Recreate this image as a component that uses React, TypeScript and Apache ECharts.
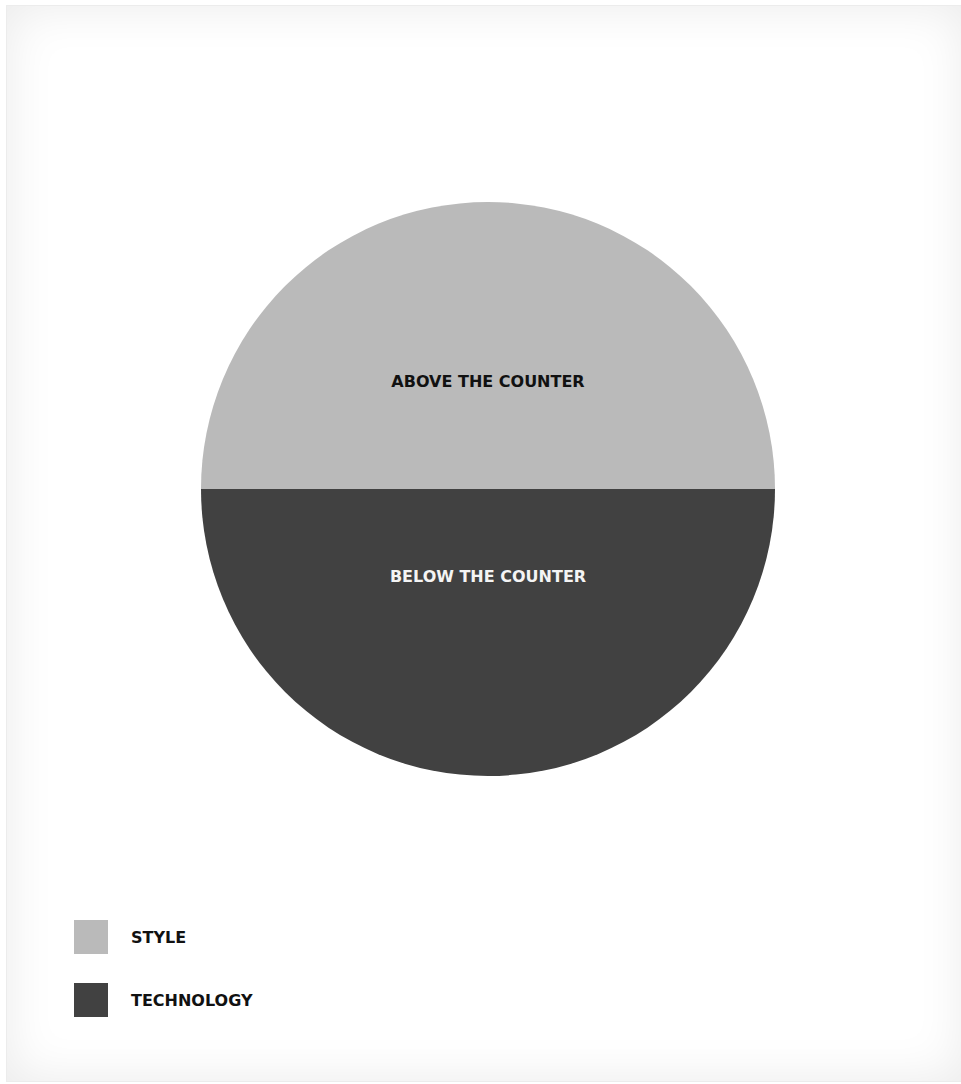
import React, { useEffect, useRef } from "react";
import * as echarts from "echarts";

const categories = ["STYLE", "TECHNOLOGY"];
const sliceLabels = ["ABOVE THE COUNTER", "BELOW THE COUNTER"];
const values = [50, 50];
const colors = ["#bababa", "#414141"];
const labelColors = ["#111111", "#f4f4f4"];

export default function App() {
  const ref = useRef<HTMLDivElement>(null);
  useEffect(() => {
    if (!ref.current) return;
    const chart = echarts.init(ref.current, undefined, { renderer: "svg" });
    const font = "'DejaVu Sans', sans-serif";
    chart.setOption({
      animation: false,
      legend: {
        orient: "vertical",
        left: 74,
        top: 920,
        padding: 0,
        itemWidth: 34,
        itemHeight: 34,
        itemGap: 29,
        icon: "rect",
        data: categories,
        selectedMode: false,
        textStyle: {
          fontFamily: font,
          fontWeight: "bold",
          fontSize: 16,
          color: "#111",
          padding: [2, 0, 0, 18],
        },
      },
      series: [
        {
          type: "pie",
          center: [488, 489],
          radius: [0, 287],
          startAngle: 180,
          clockwise: true,
          silent: true,
          data: categories.map((name, i) => ({
            name,
            value: values[i],
            itemStyle: { color: colors[i] },
            label: { color: labelColors[i] },
          })),
          label: {
            show: true,
            position: "inside",
            formatter: (p: any) => sliceLabels[p.dataIndex],
            fontFamily: font,
            fontWeight: "bold",
            fontSize: 16,
          },
          labelLine: { show: false },
          labelLayout: (p: any) => ({ dy: p.dataIndex === 0 ? 39 : -59 }),
        },
      ],
    });
    return () => chart.dispose();
  }, []);
  return (
    <div style={{ position: "fixed", left: 0, top: 0, width: 961, height: 1084, background: "#fff" }}>
      <div
        style={{
          position: "absolute",
          left: 6,
          top: 5,
          width: 960,
          height: 1077,
          background: "#fff",
          border: "1px solid #ececec",
          boxShadow: "inset 0 0 50px rgba(0,0,0,0.085)",
          boxSizing: "border-box",
        }}
      />
      <div ref={ref} style={{ position: "absolute", left: 0, top: 0, width: 961, height: 1084 }} />
    </div>
  );
}
